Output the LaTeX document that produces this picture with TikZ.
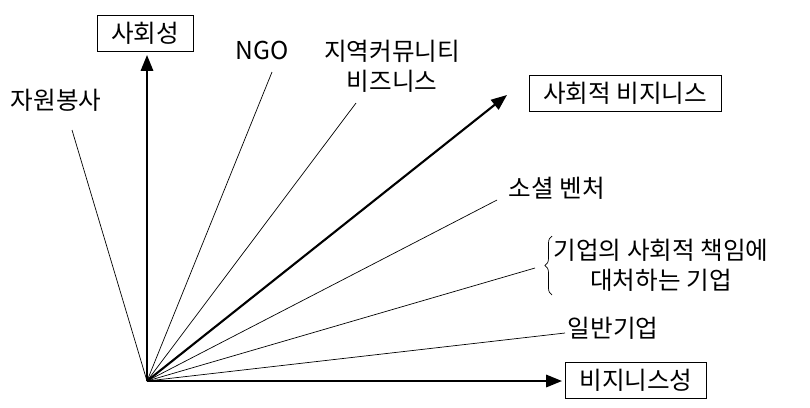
\documentclass[tikz,border=0pt]{standalone}
\usepackage{fontspec}
\setmainfont{Noto Sans CJK KR}
\usetikzlibrary{arrows.meta,decorations.pathreplacing}
\begin{document}
\begin{tikzpicture}[x=0.02cm,y=-0.02cm,font=\fontsize{14}{17}\selectfont,
  axis/.style={very thick,-{Triangle[length=9pt,width=7pt]}},
  ray/.style={thin},
  tag/.style={draw,thin,inner xsep=8pt,inner ysep=3pt,minimum height=0.72cm},
  lbl/.style={inner sep=1pt,align=center}]
\useasboundingbox (0,0) rectangle (810,407);
\coordinate (O) at (147,381);
\node[tag] (soc) at (145,33) {사회성};
\node[tag] (biz) at (636,380) {비지니스성};
\node[tag] (sb) at (625,93) {사회적 비지니스};
\node[lbl] (vol) at (56,100) {자원봉사};
\node[lbl] (ngo) at (262,50) {NGO};
\node[lbl] (com) at (392,66) {지역커뮤니티\\비즈니스};
\node[lbl] (sv) at (557,188) {소셜 벤처};
\node[lbl] (csr) at (661,265) {기업의 사회적 책임에\\대처하는 기업};
\node[lbl] (gen) at (613,328) {일반기업};
\coordinate (vE) at (72,130);
\coordinate (nE) at (272,72);
\coordinate (cE) at (356,103);
\coordinate (sE) at (497,200);
\coordinate (kE) at (535,268);
\coordinate (gE) at (565,333);
\draw[axis] (O) -- (147,55);
\draw[axis] (O) -- (562,381);
\draw[axis] (O) -- (507,95);
\foreach \e in {vE,nE,cE,sE,kE,gE} \draw[ray] (O) -- (\e);
\draw[thin,decorate,decoration={brace,amplitude=4pt}] (552,295) -- (552,236);
\end{tikzpicture}
\end{document}
